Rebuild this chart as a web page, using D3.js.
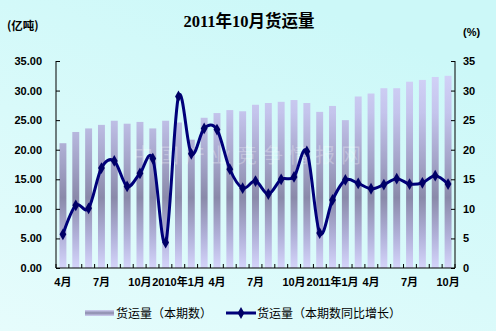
<!DOCTYPE html>
<html>
<head>
<meta charset="utf-8">
<script src="https://cdn.jsdelivr.net/npm/d3@7"></script>
<style>
  html, body { margin: 0; padding: 0; }
  svg { display: block; }
</style>
</head>
<body>
<svg id="chart" width="496" height="331"></svg>
<script>
// Monthly freight volume, Apr 2009 – Oct 2011
const months = [
  "2009-04","2009-05","2009-06","2009-07","2009-08","2009-09","2009-10","2009-11","2009-12",
  "2010-01","2010-02","2010-03","2010-04","2010-05","2010-06","2010-07","2010-08","2010-09",
  "2010-10","2010-11","2010-12","2011-01","2011-02","2011-03","2011-04","2011-05","2011-06",
  "2011-07","2011-08","2011-09","2011-10"
];
// 货运量（本期数），亿吨
const volume = [
  21.1, 23.0, 23.6, 24.2, 24.9, 24.4, 24.7, 23.6, 24.9,
  24.6, 21.7, 25.4, 26.2, 26.7, 26.5, 27.6, 27.9, 28.1,
  28.4, 27.9, 26.4, 27.4, 25.0, 29.0, 29.5, 30.4, 30.4,
  31.5, 31.8, 32.3, 32.5
];
// 货运量（本期数同比增长），%
const growth = [
  5.7, 10.6, 10.1, 16.9, 18.1, 13.8, 16.0, 18.5, 4.3,
  29.0, 19.3, 23.6, 23.4, 16.7, 13.5, 14.7, 12.5, 15.0,
  15.4, 19.7, 5.9, 11.5, 14.9, 14.3, 13.4, 14.1, 15.1,
  14.2, 14.4, 15.6, 14.2
];
// Category labels shown every third month
const xTickLabels = {
  0: "4月", 3: "7月", 6: "10月", 9: "2010年1月", 12: "4月", 15: "7月",
  18: "10月", 21: "2011年1月", 24: "4月", 27: "7月", 30: "10月"
};
const leftTicks = [0, 5, 10, 15, 20, 25, 30, 35];
const rightTicks = [0, 5, 10, 15, 20, 25, 30, 35];

const title = "2011年10月货运量";
const leftUnit = "(亿吨)";
const rightUnit = "(%)";
const seriesNames = ["货运量（本期数）", "货运量（本期数同比增长）"];

const W = 496, H = 331;
const plot = { left: 56, right: 455, top: 61, bottom: 268 };

const svg = d3.select("#chart");
const defs = svg.append("defs");

// Background wash
const bg = defs.append("linearGradient").attr("id", "bgGrad")
  .attr("x1", "0").attr("y1", "1").attr("x2", "0.6").attr("y2", "0");
bg.append("stop").attr("offset", "0%").attr("stop-color", "#e6fcfc");
bg.append("stop").attr("offset", "100%").attr("stop-color", "#ccf8f8");
svg.append("rect").attr("width", W).attr("height", H).attr("fill", "url(#bgGrad)");

// Bar fill: light at the ends, darker band in the lower middle of the plot
const barGrad = defs.append("linearGradient").attr("id", "barGrad")
  .attr("gradientUnits", "userSpaceOnUse")
  .attr("x1", 0).attr("y1", plot.top).attr("x2", 0).attr("y2", plot.bottom);
[["0%", "#d6d6fb"], ["25%", "#c4c4ec"], ["50%", "#a2a2c6"], ["66%", "#8a8aaa"],
 ["85%", "#b2b2da"], ["100%", "#d4d4fa"]].forEach(([o, c]) =>
  barGrad.append("stop").attr("offset", o).attr("stop-color", c));

const legGrad = defs.append("linearGradient").attr("id", "legGrad")
  .attr("x1", 0).attr("y1", 0).attr("x2", 0).attr("y2", 1);
[["0%", "#d0d0f4"], ["50%", "#8a8aaa"], ["100%", "#d0d0f4"]].forEach(([o, c]) =>
  legGrad.append("stop").attr("offset", o).attr("stop-color", c));

// Scales
const x = d3.scaleBand().domain(d3.range(months.length))
  .range([plot.left, plot.right]).paddingInner(0.46).paddingOuter(0.27);
const yL = d3.scaleLinear().domain([0, 35]).range([plot.bottom, plot.top]);
const yR = d3.scaleLinear().domain([0, 35]).range([plot.bottom, plot.top]);

const fontNum = "Arial, 'Liberation Sans', 'Noto Sans CJK SC', sans-serif";
const fontCJK = "'Noto Sans CJK SC', 'Noto Sans', sans-serif";

// Bars
svg.append("g").selectAll("rect").data(volume).join("rect")
  .attr("x", (d, i) => x(i))
  .attr("width", x.bandwidth())
  .attr("y", d => yL(d))
  .attr("height", d => yL(0) - yL(d))
  .attr("fill", "url(#barGrad)");

// Faint watermark across the plot
svg.append("text")
  .attr("x", 250).attr("y", 163)
  .attr("text-anchor", "middle")
  .attr("font-family", fontCJK).attr("font-size", 20)
  .attr("letter-spacing", 6)
  .attr("fill", "#ffffff").attr("fill-opacity", 0.28)
  .text("中国产业竞争情报网");

// Axes (ticks point into the plot)
const leftAxis = d3.axisLeft(yL).tickValues(leftTicks).tickSize(-4).tickPadding(14)
  .tickFormat(d3.format(".2f"));
const gL = svg.append("g").attr("transform", `translate(${plot.left},0)`).call(leftAxis);

const rightAxis = d3.axisRight(yR).tickValues(rightTicks).tickSize(-4).tickPadding(8)
  .tickFormat(d3.format("d"));
const gR = svg.append("g").attr("transform", `translate(${plot.right},0)`).call(rightAxis);

const bottomAxis = d3.axisBottom(x).tickSize(0).tickPadding(10)
  .tickFormat(i => xTickLabels[i] || "");
const gB = svg.append("g").attr("transform", `translate(0,${plot.bottom})`).call(bottomAxis);

// Category boundary ticks on the x axis
const x0 = plot.left;
gB.append("g").selectAll("line").data(d3.range(months.length + 1)).join("line")
  .attr("x1", i => x0 + (plot.right - plot.left) * i / months.length)
  .attr("x2", i => x0 + (plot.right - plot.left) * i / months.length)
  .attr("y1", 0).attr("y2", -4)
  .attr("stroke", "#000");

[gL, gR, gB].forEach(g => {
  g.selectAll(".domain").attr("stroke", "#000").attr("stroke-width", 1);
  g.selectAll(".tick line").attr("stroke", "#000");
  g.selectAll("text").attr("font-family", fontNum).attr("font-weight", "bold")
    .attr("font-size", 11).attr("fill", "#000");
});
gL.selectAll("text").attr("text-anchor", "end");
gB.select(".domain").attr("d", `M${plot.left},0H${plot.right}`);
gL.select(".domain").attr("d", `M0,${plot.bottom}V${plot.top}`);
gR.select(".domain").attr("d", `M0,${plot.bottom}V${plot.top}`);

// Growth line (smoothed) with diamond markers
const line = d3.line()
  .x((d, i) => x(i) + x.bandwidth() / 2)
  .y(d => yR(d))
  .curve(d3.curveCardinal.tension(0));
svg.append("path").datum(growth)
  .attr("d", line)
  .attr("fill", "none")
  .attr("stroke", "#00007a")
  .attr("stroke-width", 3)
  .attr("stroke-linejoin", "round");

const diamond = d3.symbol().type(d3.symbolDiamond).size(40);
svg.append("g").selectAll("path").data(growth).join("path")
  .attr("transform", (d, i) => `translate(${x(i) + x.bandwidth() / 2},${yR(d)})`)
  .attr("d", diamond)
  .attr("fill", "#000066");

// Titles and unit labels
svg.append("text").attr("x", 249).attr("y", 27).attr("text-anchor", "middle")
  .attr("font-family", "'Liberation Serif', 'Noto Sans CJK SC', serif")
  .attr("font-weight", "bold").attr("font-size", 16.5).attr("fill", "#000")
  .text(title);
svg.append("text").attr("x", 7).attr("y", 30)
  .attr("font-family", fontCJK).attr("font-weight", "bold")
  .attr("font-size", 11.5).attr("fill", "#000").text(leftUnit);
svg.append("text").attr("x", 463).attr("y", 36)
  .attr("font-family", fontNum).attr("font-weight", "bold")
  .attr("font-size", 11).attr("fill", "#000").text(rightUnit);

// Legend
const legY = 313;
const leg = svg.append("g");
leg.append("rect").attr("x", 85).attr("y", legY - 3).attr("width", 29).attr("height", 6)
  .attr("fill", "url(#legGrad)");
leg.append("text").attr("x", 116).attr("y", legY + 4.5)
  .attr("font-family", fontCJK).attr("font-size", 12).attr("fill", "#000")
  .text(seriesNames[0]);
leg.append("line").attr("x1", 226).attr("x2", 256).attr("y1", legY).attr("y2", legY)
  .attr("stroke", "#00007a").attr("stroke-width", 3);
leg.append("path").attr("transform", `translate(241,${legY})`).attr("d", diamond)
  .attr("fill", "#000066");
leg.append("text").attr("x", 257).attr("y", legY + 4.5)
  .attr("font-family", fontCJK).attr("font-size", 12).attr("fill", "#000")
  .text(seriesNames[1]);
</script>
</body>
</html>
